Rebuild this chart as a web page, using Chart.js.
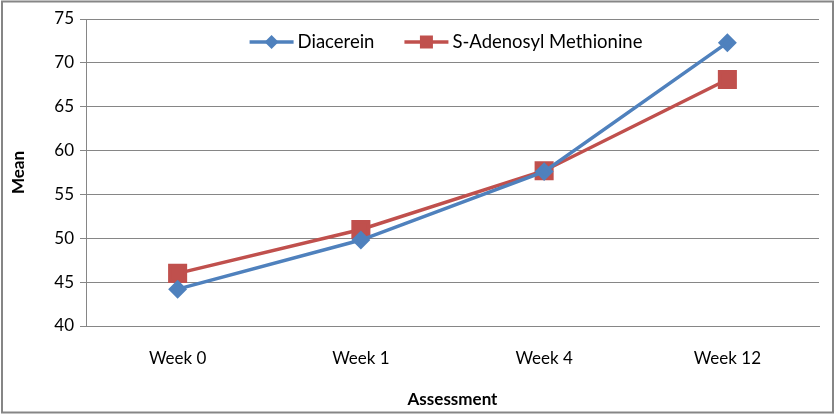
<!DOCTYPE html>
<html>
<head>
<meta charset="utf-8">
<script src="https://cdn.jsdelivr.net/npm/chart.js@4.4.1/dist/chart.umd.min.js"></script>
<style>
  html, body { margin: 0; padding: 0; background: #fff; }
  #wrap { width: 839px; height: 414px; position: relative; }
</style>
</head>
<body>
<div id="wrap"><canvas id="chart"></canvas></div>
<script>
const weeks = ['Week 0', 'Week 1', 'Week 4', 'Week 12']
const diacerein = [44.2, 49.8, 57.6, 72.3]
const adenosyl = [46.0, 51.0, 57.7, 68.1]
const yTicks = [40, 45, 50, 55, 60, 65, 70, 75]

const blue = '#4F81BD'
const red = '#C0504D'
const grey = '#868686'
const fontFamily = 'Lato, "Open Sans", sans-serif'

// legend drawn by hand: line + marker, then the name, centred over the plot
const lineLegend = {
  id: 'lineLegend',
  afterDraw(chart) {
    const ctx = chart.ctx
    const sets = chart.data.datasets
    ctx.save()
    ctx.font = '18.5px ' + fontFamily
    ctx.textBaseline = 'middle'
    const sw = 44, gapText = 4, gapItem = 30
    let total = 0
    sets.forEach((ds, i) => {
      total += sw + gapText + ctx.measureText(ds.label).width
      if (i < sets.length - 1) total += gapItem
    })
    let x = 446 - total / 2
    const y = 42
    sets.forEach((ds) => {
      ctx.strokeStyle = ds.borderColor
      ctx.fillStyle = ds.borderColor
      ctx.lineWidth = 3.5
      ctx.beginPath()
      ctx.moveTo(x, y)
      ctx.lineTo(x + sw, y)
      ctx.stroke()
      ctx.beginPath()
      const cx = x + sw / 2
      if (ds.pointStyle == 'rectRot') {
        ctx.moveTo(cx, y - 7); ctx.lineTo(cx + 7, y); ctx.lineTo(cx, y + 7); ctx.lineTo(cx - 7, y)
      } else {
        ctx.rect(cx - 6.5, y - 6.5, 13, 13)
      }
      ctx.fill()
      x += sw + gapText
      ctx.fillStyle = '#000'
      ctx.fillText(ds.label, x, y)
      x += ctx.measureText(ds.label).width + gapItem
    })
    // outer frame
    ctx.strokeStyle = grey
    ctx.lineWidth = 2
    ctx.strokeRect(2, 1.5, 831, 411)
    ctx.restore()
  }
}

new Chart(document.getElementById('chart'), {
  type: 'line',
  data: {
    labels: weeks,
    datasets: [
      {
        label: 'Diacerein',
        data: diacerein,
        borderColor: blue,
        backgroundColor: blue,
        borderWidth: 3.5,
        pointStyle: 'rectRot',
        pointRadius: 7,
        pointHoverRadius: 7,
        tension: 0,
      },
      {
        label: 'S-Adenosyl Methionine',
        data: adenosyl,
        borderColor: red,
        backgroundColor: red,
        borderWidth: 3.5,
        pointStyle: 'rect',
        pointRadius: 11,
        pointHoverRadius: 11,
        tension: 0,
      },
    ],
  },
  options: {
    responsive: true,
    maintainAspectRatio: false,
    animation: false,
    layout: { padding: { left: 0, right: 20, top: 19, bottom: 0 } },
    plugins: {
      tooltip: { enabled: false },
      legend: { display: false },
    },
    scales: {
      x: {
        offset: true,
        grid: { display: false, drawTicks: false },
        border: { color: grey, width: 1 },
        ticks: { color: '#000', font: { family: fontFamily, size: 17 }, padding: 22 },
        title: {
          display: true,
          text: 'Assessment',
          color: '#000',
          font: { family: fontFamily, size: 17, weight: 'bold' },
          padding: { top: 16 },
        },
        afterFit: (scale) => { scale.height = 88 },
      },
      y: {
        min: 40,
        max: 75,
        afterBuildTicks: (scale) => { scale.ticks = yTicks.map((v) => ({ value: v })) },
        grid: { color: grey, tickLength: 6, tickColor: grey },
        border: { color: grey, width: 1 },
        ticks: { color: '#000', font: { family: fontFamily, size: 17 }, padding: 6 },
        title: {
          display: true,
          text: 'Mean',
          color: '#000',
          font: { family: fontFamily, size: 17, weight: 'bold' },
          padding: { top: 8, bottom: 0 },
        },
        afterFit: (scale) => { scale.width = 86 },
      },
    },
  },
  plugins: [lineLegend],
})
</script>
</body>
</html>
